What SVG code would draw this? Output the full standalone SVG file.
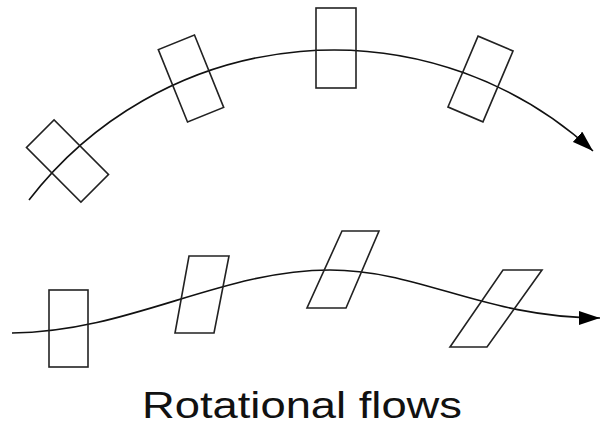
<svg xmlns="http://www.w3.org/2000/svg" width="601" height="430" viewBox="0 0 601 430">
  <style>
    .flow { fill: none; stroke: #111; stroke-width: 1.6; }
    .cell { fill: none; stroke: #222; stroke-width: 1.6; stroke-linejoin: miter; }
    .caption { font-family: "Liberation Sans", Arial, sans-serif; font-size: 37px; fill: #111; }
  </style>
  <defs>
    <marker id="head" markerUnits="userSpaceOnUse" markerWidth="22" markerHeight="14" refX="21" refY="7" orient="auto">
      <path d="M0,0 L21,7 L0,14 z" fill="#000"/>
    </marker>
  </defs>

  <rect width="601" height="430" fill="#fff"/>

  <!-- flow lines -->
  <g id="connectors">
    <path id="arc-flow" class="flow" d="M29,200 A384,384 0 0 1 593,151" marker-end="url(#head)"/>
    <path id="wave-flow" class="flow" d="M12,333 C130,332 220,270 330,270 C420,270 485,318 600,318" marker-end="url(#head)"/>
  </g>

  <!-- cells carried round the arc: each turns with the radius -->
  <g id="arc-cell-1" transform="translate(67.5,161) rotate(-45)">
    <rect class="cell" x="-19.5" y="-38.5" width="39" height="77"/>
  </g>
  <g id="arc-cell-2" transform="translate(191,78.5) rotate(-22)">
    <rect class="cell" x="-19.5" y="-39" width="39" height="78"/>
  </g>
  <g id="arc-cell-3" transform="translate(336,48)">
    <rect class="cell" x="-20" y="-40" width="40" height="80"/>
  </g>
  <g id="arc-cell-4" transform="translate(480.5,79) rotate(23)">
    <rect class="cell" x="-19" y="-38.5" width="38" height="77"/>
  </g>

  <!-- cells sheared along the wave -->
  <g id="wave-cell-1">
    <rect class="cell" x="49" y="290" width="39" height="77"/>
  </g>
  <g id="wave-cell-2">
    <polygon class="cell" points="189,256 229,256 214,333 175,333"/>
  </g>
  <g id="wave-cell-3">
    <polygon class="cell" points="342,231 379,231 346,308 307,308"/>
  </g>
  <g id="wave-cell-4">
    <polygon class="cell" points="503,270 542,270 487,347 450,347"/>
  </g>

  <text class="caption" x="142" y="418" textLength="320" lengthAdjust="spacingAndGlyphs">Rotational flows</text>
</svg>
